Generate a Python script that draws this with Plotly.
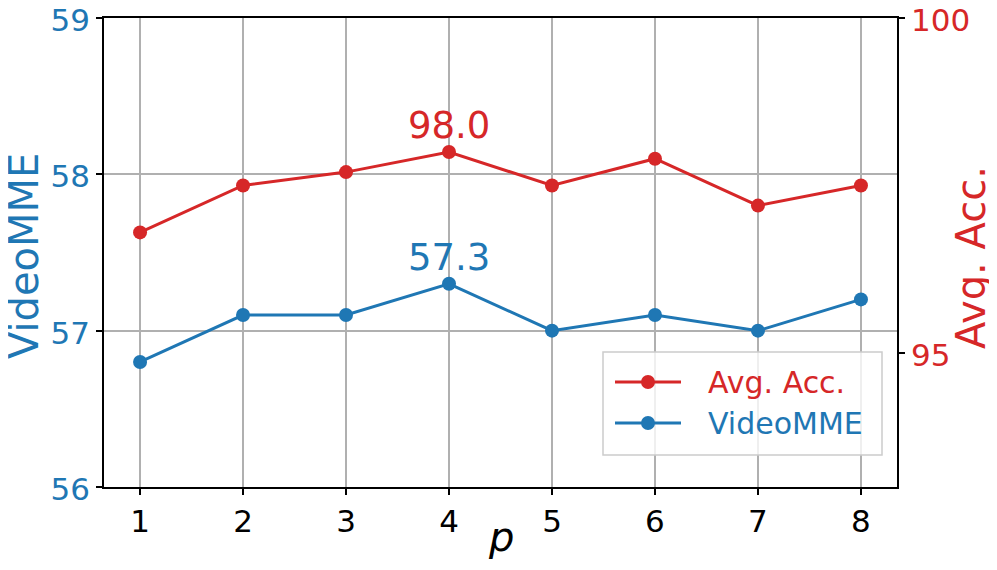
import plotly.graph_objects as go

p_values = [1, 2, 3, 4, 5, 6, 7, 8]
avg_acc = [96.8, 97.5, 97.7, 98.0, 97.5, 97.9, 97.2, 97.5]
videomme = [56.8, 57.1, 57.1, 57.3, 57.0, 57.1, 57.0, 57.2]
left_ticks = [56, 57, 58, 59]
right_ticks = [95, 100]
series_names = ["Avg. Acc.", "VideoMME"]

BLUE = "#1f77b4"
RED = "#d62728"
FONT = "DejaVu Sans"

# the page body has an 8px default margin; size the figure to fit the 997x570 window
OFF = 8
W, H = 997 - OFF, 570 - OFF
ML, MR, MT, MB = 104 - OFF, 100, 18 - OFF, 83
PW, PH = W - ML - MR, H - MT - MB


def px(xp):
    return (xp - OFF - ML) / PW


def py(yp):
    return (OFF + H - MB - yp) / PH


fig = go.Figure()
fig.add_trace(go.Scatter(
    x=p_values, y=avg_acc, yaxis="y2", mode="lines+markers", name=series_names[0],
    line=dict(color=RED, width=3), marker=dict(color=RED, size=14),
))
fig.add_trace(go.Scatter(
    x=p_values, y=videomme, yaxis="y", mode="lines+markers", name=series_names[1],
    line=dict(color=BLUE, width=3), marker=dict(color=BLUE, size=14),
))

i_max_a = avg_acc.index(max(avg_acc))
i_max_v = videomme.index(max(videomme))
fig.add_annotation(x=p_values[i_max_a], y=avg_acc[i_max_a], yref="y2",
                   text=f"{avg_acc[i_max_a]:.1f}", showarrow=False,
                   yanchor="bottom", yshift=3,
                   font=dict(family=FONT, size=37, color=RED))
fig.add_annotation(x=p_values[i_max_v], y=videomme[i_max_v], yref="y",
                   text=f"{videomme[i_max_v]:.1f}", showarrow=False,
                   yanchor="bottom", yshift=3,
                   font=dict(family=FONT, size=37, color=BLUE))

# axis titles
fig.add_annotation(xref="paper", yref="paper", x=px(24), y=py(256),
                   text="VideoMME", textangle=-90, showarrow=False,
                   xanchor="center", yanchor="middle",
                   font=dict(family=FONT, size=40, color=BLUE))
fig.add_annotation(xref="paper", yref="paper", x=px(971), y=py(258),
                   text="Avg. Acc.", textangle=-90, showarrow=False,
                   xanchor="center", yanchor="middle",
                   font=dict(family=FONT, size=40, color=RED))
fig.add_annotation(xref="paper", yref="paper", x=0.5, y=py(537),
                   text="<i>p</i>", showarrow=False,
                   xanchor="center", yanchor="middle",
                   font=dict(family=FONT, size=40, color="black"))

# legend (drawn manually to match box layout)
shapes = [dict(type="rect", xref="paper", yref="paper",
               x0=px(603), x1=px(882), y0=py(455), y1=py(352),
               fillcolor="rgba(255,255,255,0.8)", line=dict(color="#cccccc", width=1.5),
               layer="above")]
leg_rows = [(382, RED, series_names[0]), (423, BLUE, series_names[1])]
for yrow, col, name in leg_rows:
    shapes.append(dict(type="line", xref="paper", yref="paper",
                       x0=px(615), x1=px(681), y0=py(yrow), y1=py(yrow),
                       line=dict(color=col, width=3), layer="above"))
    shapes.append(dict(type="circle", xref="paper", yref="paper",
                       xsizemode="pixel", ysizemode="pixel",
                       xanchor=px(648), yanchor=py(yrow),
                       x0=-7, x1=7, y0=-7, y1=7,
                       fillcolor=col, line=dict(color=col, width=0), layer="above"))
    fig.add_annotation(xref="paper", yref="paper", x=px(706), y=py(yrow),
                       text=name, showarrow=False, xanchor="left", yanchor="middle",
                       font=dict(family=FONT, size=30, color=col))

fig.update_layout(
    width=W, height=H,
    margin=dict(l=ML, r=MR, t=MT, b=MB),
    paper_bgcolor="white", plot_bgcolor="white",
    font=dict(family=FONT, color="black"),
    showlegend=False,
    shapes=shapes,
    xaxis=dict(
        range=[0.65, 8.35], tickvals=p_values, ticktext=[str(v) for v in p_values],
        showgrid=True, gridcolor="#b0b0b0", gridwidth=1.5,
        showline=True, linecolor="black", linewidth=1.8, mirror=True,
        ticks="outside", ticklen=6, tickcolor="black", tickwidth=1.5,
        tickfont=dict(family=FONT, size=31, color="black"),
        zeroline=False, automargin=False,
    ),
    yaxis=dict(
        range=[56, 59], tickvals=left_ticks,
        showgrid=True, gridcolor="#b0b0b0", gridwidth=1.5,
        showline=True, linecolor="black", linewidth=1.8,
        ticks="outside", ticklen=6, tickcolor="black", tickwidth=1.5,
        tickfont=dict(family=FONT, size=31, color=BLUE),
        ticklabeloverflow="allow", ticklabelshift=2,
        zeroline=False, automargin=False,
    ),
    yaxis2=dict(
        range=[93, 100], tickvals=right_ticks, overlaying="y", side="right",
        showgrid=False,
        showline=True, linecolor="black", linewidth=1.8,
        ticks="outside", ticklen=6, tickcolor="black", tickwidth=1.5,
        tickfont=dict(family=FONT, size=31, color=RED),
        ticklabeloverflow="allow", ticklabelshift=2,
        zeroline=False, automargin=False,
    ),
)

fig.write_html("out.html")
